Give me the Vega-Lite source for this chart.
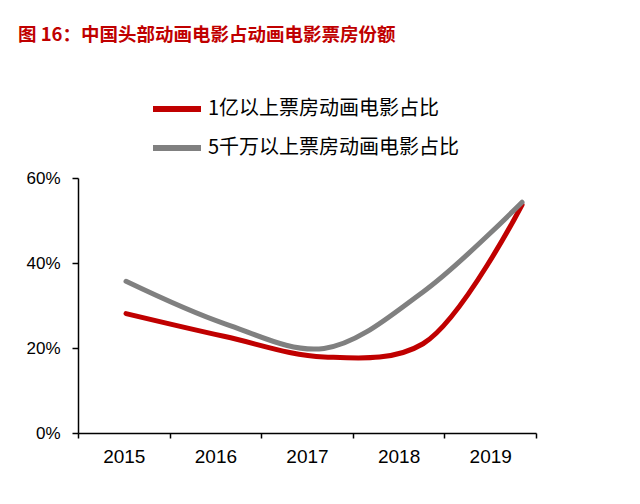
{
  "$schema": "https://vega.github.io/schema/vega-lite/v6.json",
  "autosize": "none",
  "width": 458,
  "height": 255,
  "padding": {"left": 78, "top": 178, "right": 104, "bottom": 71},
  "background": "white",
  "config": {"view": {"stroke": null}, "font": "Liberation Sans"},
  "title": {
    "text": "图 16：中国头部动画电影占动画电影票房份额",
    "anchor": "start",
    "frame": "group",
    "dx": -60,
    "offset": 38,
    "font": "Noto Sans CJK SC",
    "fontSize": 18.5,
    "fontWeight": "bold",
    "color": "#C00000"
  },
  "data": {
    "values": [
      {"year": 2015, "series": "1亿以上票房动画电影占比", "share": 0.281},
      {"year": 2016, "series": "1亿以上票房动画电影占比", "share": 0.227},
      {"year": 2017, "series": "1亿以上票房动画电影占比", "share": 0.179},
      {"year": 2018, "series": "1亿以上票房动画电影占比", "share": 0.21},
      {"year": 2019, "series": "1亿以上票房动画电影占比", "share": 0.537},
      {"year": 2015, "series": "5千万以上票房动画电影占比", "share": 0.357},
      {"year": 2016, "series": "5千万以上票房动画电影占比", "share": 0.257},
      {"year": 2017, "series": "5千万以上票房动画电影占比", "share": 0.199},
      {"year": 2018, "series": "5千万以上票房动画电影占比", "share": 0.332},
      {"year": 2019, "series": "5千万以上票房动画电影占比", "share": 0.543}
    ]
  },
  "layer": [
    {
      "mark": {"type": "line", "interpolate": "catmull-rom", "strokeWidth": 5, "strokeCap": "round"},
      "encoding": {
        "x": {"field": "year", "type": "quantitative", "scale": {"domain": [2014.515, 2019.141], "nice": false, "zero": false}, "axis": null},
        "y": {
          "field": "share", "type": "quantitative",
          "scale": {"domain": [0, 0.6], "nice": false},
          "axis": {
            "title": null, "format": ".0%", "values": [0, 0.2, 0.4, 0.6], "grid": false,
            "domainColor": "#000000", "domainWidth": 1.5, "tickColor": "#000000", "tickWidth": 1.5, "tickSize": 6,
            "labelFontSize": 17, "labelColor": "#000000", "labelPadding": 12, "labelFont": "Liberation Sans"
          }
        },
        "color": {
          "field": "series", "type": "nominal",
          "scale": {"domain": ["1亿以上票房动画电影占比", "5千万以上票房动画电影占比"], "range": ["#C00000", "#808080"]},
          "legend": {
            "title": null, "orient": "none", "legendX": 72, "legendY": -96, "direction": "vertical",
            "symbolType": "stroke", "symbolSize": 2304, "symbolStrokeWidth": 6,
            "labelFont": "Noto Sans CJK SC", "labelFontSize": 20, "labelColor": "#000000",
            "labelOffset": 4, "rowPadding": -4, "labelLimit": 400
          }
        }
      }
    },
    {
      "mark": {"type": "tick", "opacity": 0},
      "encoding": {
        "x": {
          "field": "year", "type": "ordinal",
          "scale": {"type": "band", "paddingInner": 0, "paddingOuter": 0},
          "axis": {
            "title": null, "labelAngle": 0, "tickBand": "extent", "grid": false,
            "domainColor": "#000000", "domainWidth": 1.5, "tickColor": "#000000", "tickWidth": 1.5, "tickSize": 5,
            "labelFontSize": 19, "labelColor": "#000000", "labelPadding": 9, "labelFont": "Liberation Sans"
          }
        }
      }
    }
  ],
  "resolve": {"scale": {"x": "independent"}}
}
